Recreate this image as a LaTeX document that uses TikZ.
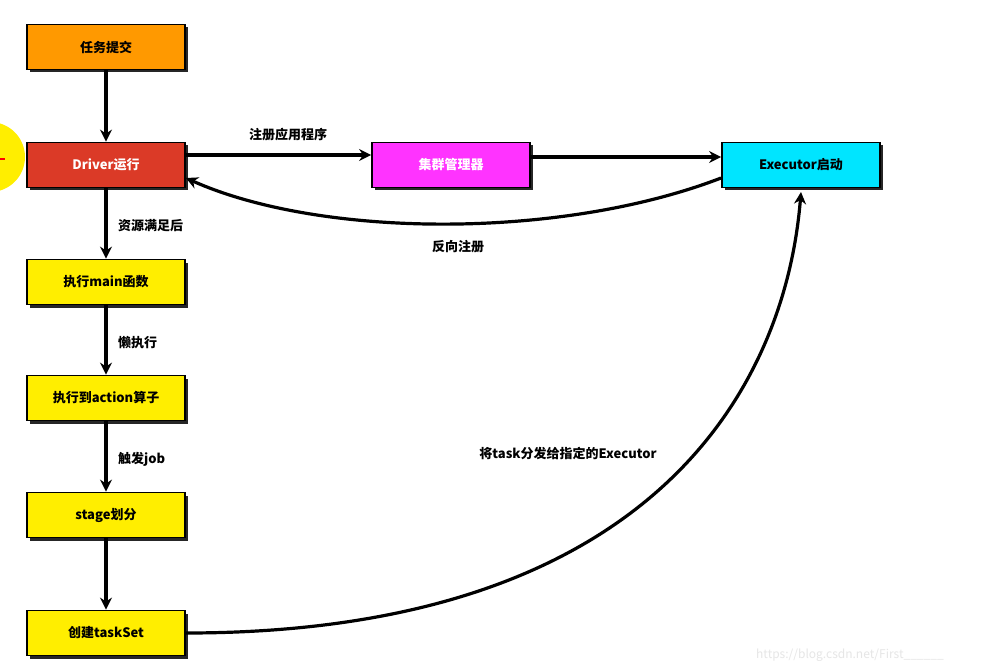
\documentclass[tikz,border=0pt]{standalone}
\usepackage{fontspec}
\setmainfont{Noto Sans CJK SC}
\usetikzlibrary{arrows.meta,shadows}
\definecolor{cOrange}{HTML}{FF9900}
\definecolor{cRed}{HTML}{DB3A27}
\definecolor{cYellow}{HTML}{FFEE00}
\definecolor{cMag}{HTML}{FF33FF}
\definecolor{cCyan}{HTML}{00E5FF}
\definecolor{cWm}{HTML}{E6E6E6}
\begin{document}
\begin{tikzpicture}[x=1pt,y=-1pt,
  box/.style={draw=black,line width=1.8pt,minimum width=158pt,minimum height=45pt,inner sep=0pt,
    font=\fontsize{13}{15}\selectfont\bfseries,
    drop shadow={shadow xshift=3pt,shadow yshift=-3pt,fill=black!85,opacity=1}},
  conn/.style={line width=3.2pt,-{Stealth[length=12pt,width=12pt]}},
  lbl/.style={font=\fontsize{13}{15}\selectfont\bfseries,inner sep=0pt}]
\useasboundingbox (0,0) rectangle (995,671);
\fill[white] (0,0) rectangle (995,671);
% yellow circle at left edge
\fill[cYellow] (-10,157) circle (35);
\fill[red] (0,158.5) rectangle (5,160.5);
% nodes
\node[box,fill=cOrange] (submit) at (106,47) {任务提交};
\node[box,fill=cRed,text=white] (driver) at (106,165) {Driver运行};
\node[box,fill=cYellow] (main) at (106,282) {执行main函数};
\node[box,fill=cYellow] (action) at (106,398) {执行到action算子};
\node[box,fill=cYellow] (stage) at (106,515) {stage划分};
\node[box,fill=cYellow] (taskset) at (106,633) {创建taskSet};
\node[box,fill=cMag,text=white] (cluster) at (451,165) {集群管理器};
\node[box,fill=cCyan] (exec) at (801,165) {Executor启动};
% connectors
\draw[conn] (submit) -- (driver);
\draw[conn] (driver) -- (main);
\draw[conn] (main) -- (action);
\draw[conn] (action) -- (stage);
\draw[conn] (stage) -- (taskset);
\draw[conn] (driver.east |- 0,155) -- (cluster.west |- 0,155);
\draw[conn] (cluster.east |- 0,157) -- (exec.west |- 0,157);
\draw[conn] (exec.west |- 0,178) .. controls (560,240) and (320,238) .. (driver.east |- 0,178);
\draw[conn] (taskset.east) .. controls (650,633) and (785,390) .. (exec.south |- 0,192);
% labels
\node[lbl] (l1) at (288,135) {注册应用程序};
\node[lbl] (l2) at (458,247) {反向注册};
\node[lbl,anchor=west] (l3) at (118,226) {资源满足后};
\node[lbl,anchor=west] (l4) at (118,343) {懒执行};
\node[lbl,anchor=west] (l5) at (118,459) {触发job};
\node[lbl] (l6) at (568,453) {将task分发给指定的Executor};
\node[font=\fontsize{12}{14}\selectfont,text=cWm,inner sep=0pt] (wm) at (850,655) {https://blog.csdn.net/First\_\_\_\_\_\_};
\end{tikzpicture}
\end{document}
